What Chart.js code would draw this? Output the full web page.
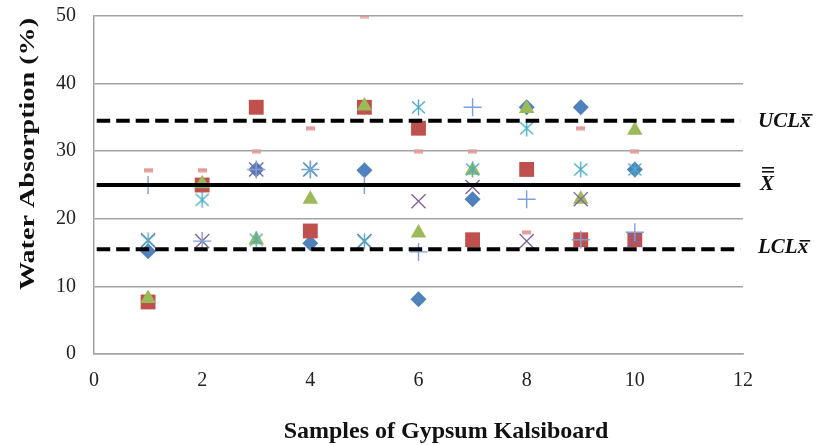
<!DOCTYPE html>
<html>
<head>
<meta charset="utf-8">
<script src="https://cdn.jsdelivr.net/npm/chart.js@4/dist/chart.umd.min.js"></script>
<style>
  html,body{margin:0;padding:0;background:#fff;}
  #wrap{width:816px;height:445px;}
</style>
</head>
<body>
<div id="wrap"><canvas id="chart" width="816" height="445"></canvas></div>
<script>
/* water absorption control chart – 7 replicates per sample, x-bar limits */

const samples     = [1,2,3,4,5,6,7,8,9,10];
const repDiamond  = [15.2,25.0,27.3,16.4,27.2, 8.1,22.9,36.5,36.5,27.3];
const repSquare   = [ 7.7,25.0,36.5,18.2,36.5,33.4,16.9,27.3,16.9,16.9];
const repTriangle = [ 8.2,25.2,16.9,22.9,36.7,17.9,27.2,36.3,22.9,33.1];
const repCross    = [16.8,16.7,27.3,27.3,16.7,22.6,24.7,16.7,22.9,16.9];
const repStar     = [16.8,22.8,16.9,27.3,16.7,36.5,27.3,33.4,27.3,27.3];
const repPlus     = [25.0,16.7,27.3,27.3,25.0,15.1,36.5,22.9,16.9,18.0];
const repDash     = [27.2,27.2,30.0,33.4,50.0,30.0,30.0,18.0,33.4,30.0];

const limitSpan = [0.05, 11.95];
const uclValue  = 34.5;
const meanValue = 25.0;
const lclValue  = 15.5;

const xTicks = [0,2,4,6,8,10,12];
const yTicks = [0,10,20,30,40,50];

const pts = arr => samples.map((s,i)=>({x:s,y:arr[i]}));
const hline = v => limitSpan.map(x=>({x,y:v}));

// asterisk marker (excel "star": X plus vertical bar)
function starImg(color){
  const c=document.createElement('canvas'); c.width=17; c.height=17;
  const g=c.getContext('2d');
  g.strokeStyle=color; g.lineWidth=1.4;
  g.beginPath();
  g.moveTo(8.5,0.5); g.lineTo(8.5,16.5);
  g.moveTo(2,2.5); g.lineTo(15,14.5);
  g.moveTo(15,2.5); g.lineTo(2,14.5);
  g.stroke();
  return c;
}
function dashImg(color){
  const c=document.createElement('canvas'); c.width=9; c.height=5;
  const g=c.getContext('2d');
  g.fillStyle=color; g.fillRect(0,0.5,9,4);
  return c;
}

const SERIF='"Liberation Serif","Times New Roman",serif';
const GRID='#a3a3a3';

function marker(data,style,color,radius,order,filled=true){
  return {type:'scatter',data:pts(data),pointStyle:style,pointRadius:radius,pointHoverRadius:radius,
    pointBackgroundColor:filled?color:'transparent',pointBorderColor:color,
    pointBorderWidth:filled?0:1.4,showLine:false,order};
}
function limitLine(v,dashed){
  return {type:'scatter',data:hline(v),showLine:true,borderColor:'#000',borderWidth:4,
    borderDash:dashed?[13.5,6]:[],pointRadius:0,pointHoverRadius:0,order:0,borderCapStyle:'butt'};
}

const labelsPlugin={id:'labels',afterDraw(chart){
  const {ctx,chartArea:{right}}=chart;
  ctx.save();
  ctx.fillStyle='#111';

  // y title
  ctx.save();
  ctx.translate(28,154); ctx.rotate(-Math.PI/2); ctx.scale(1.28,1);
  ctx.font='bold 22px '+SERIF; ctx.textAlign='center'; ctx.textBaseline='middle';
  ctx.fillText('Water Absorption (%)',0,0);
  ctx.restore();

  // x title
  ctx.font='bold 24px '+SERIF; ctx.textAlign='center'; ctx.textBaseline='middle';
  ctx.fillText('Samples of Gypsum Kalsiboard',446,432);

  // limit labels
  ctx.font='italic bold 21px '+SERIF; ctx.textAlign='left'; ctx.textBaseline='alphabetic';
  const lx=right+15;
  [['UCL',127],['LCL',253]].forEach(([t,b])=>{
    ctx.fillText(t,lx,b);
    const w=ctx.measureText(t).width;
    ctx.fillText('x',lx+w,b);
    const xw=ctx.measureText('x').width;
    ctx.fillRect(lx+w+2,b-13,xw,1.6);
  });
  ctx.fillText('X',lx+2,190);
  const Xw=ctx.measureText('X').width;
  ctx.fillRect(lx+4,167,Xw-2,1.6);
  ctx.fillRect(lx+4,171,Xw-2,1.6);
  ctx.restore();
}};

new Chart(document.getElementById('chart'),{
  type:'scatter',
  data:{datasets:[
    limitLine(uclValue,true),
    limitLine(meanValue,false),
    limitLine(lclValue,true),
    marker(repDash, dashImg('#e09b9b'),'#e09b9b',4,1),
    marker(repPlus,'cross','#7e9fd8',9,2,false),
    marker(repStar, starImg('#4bacc6'),'#4bacc6',8,3),
    marker(repCross,'crossRot','#8064a2',10,4,false),
    marker(repTriangle,'triangle','#9bbb59',9,5),
    marker(repSquare,'rect','#c0504d',10.5,6),
    marker(repDiamond,'rectRot','#4f81bd',8,7),
  ]},
  options:{
    responsive:false,animation:false,
    layout:{padding:{top:16,right:73,left:0,bottom:0}},
    plugins:{legend:{display:false},tooltip:{enabled:false}},
    scales:{
      x:{min:0,max:12,
        afterFit:s=>{s.height=91;s.paddingLeft=0;s.paddingRight=0;},
        afterBuildTicks:s=>{s.ticks=xTicks.map(v=>({value:v}));},
        grid:{display:false,drawTicks:false},
        border:{color:GRID,width:1.5},
        ticks:{padding:15,color:'#222',font:{family:SERIF,size:20}}},
      y:{min:0,max:50,
        afterFit:s=>{s.width=94;s.paddingTop=0;s.paddingBottom=0;},
        afterBuildTicks:s=>{s.ticks=yTicks.map(v=>({value:v}));},
        grid:{color:GRID,lineWidth:1.5,drawTicks:false},
        border:{color:GRID,width:1.5},
        ticks:{padding:18,color:'#222',font:{family:SERIF,size:20}}}
    }
  },
  plugins:[labelsPlugin]
});
</script>
</body>
</html>
